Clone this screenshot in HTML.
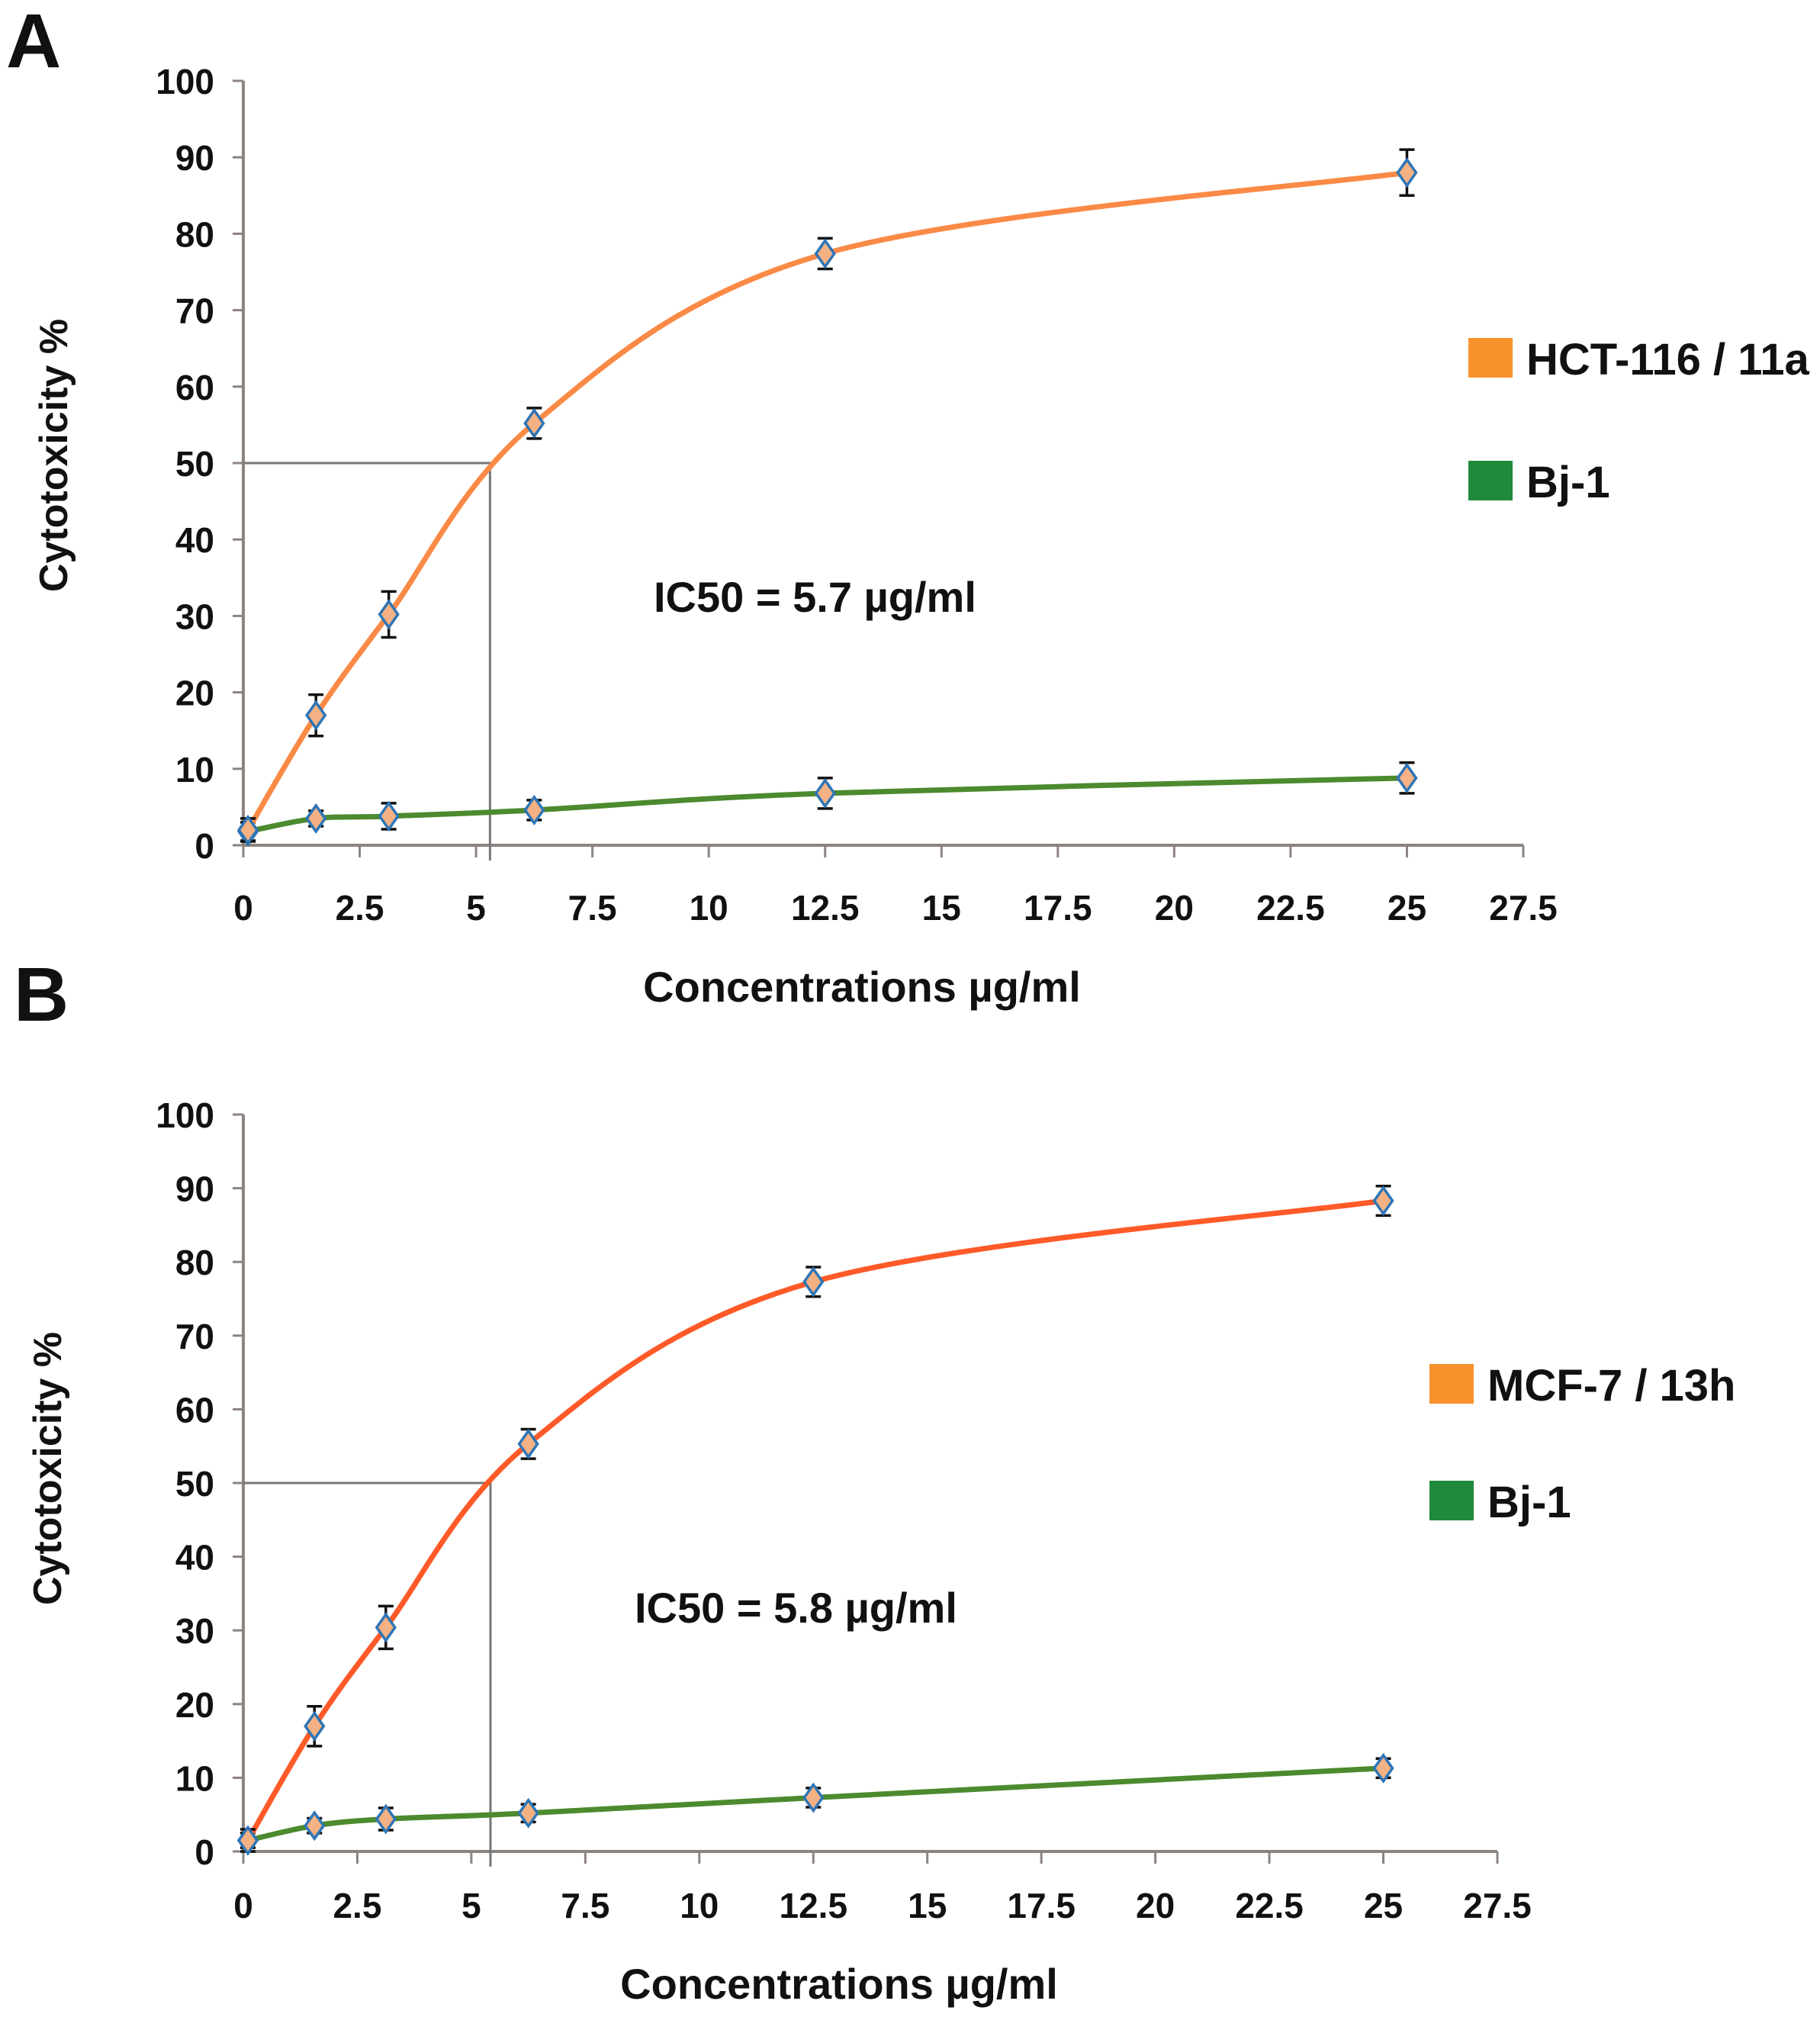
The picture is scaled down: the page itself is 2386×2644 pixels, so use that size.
<!DOCTYPE html>
<html><head><meta charset="utf-8"><style>
body{margin:0;background:#fff}
svg{display:block}
text{font-family:"Liberation Sans Narrow","Liberation Sans",sans-serif;font-weight:bold;fill:#111}
</style></head><body>
<svg id="fig" width="2386" height="2644" viewBox="0 0 2386 2644"></svg>
<script>
const xTicks=[0,2.5,5,7.5,10,12.5,15,17.5,20,22.5,25,27.5];
const xTickLabels=["0","2.5","5","7.5","10","12.5","15","17.5","20","22.5","25","27.5"];
const yTicks=[0,10,20,30,40,50,60,70,80,90,100];
const concA=[0.1,1.56,3.125,6.25,12.5,25];
const hctValues=[2,17,30.2,55.2,77.4,88];
const hctErrors=[1.5,2.7,3,2,2,3];
const bjValuesA=[1.8,3.5,3.8,4.6,6.8,8.8];
const bjErrorsA=[1.2,1,1.7,1.3,2,2];
const ic50A=5.3;
const concB=[0.1,1.56,3.125,6.25,12.5,25];
const mcfValues=[1.5,17,30.4,55.3,77.3,88.3];
const mcfErrors=[1.5,2.7,2.9,2,2,2];
const bjValuesB=[1.5,3.5,4.4,5.2,7.3,11.3];
const bjErrorsB=[1,1,1.5,1.2,1.3,1.3];
const ic50B=5.42;

const NS="http://www.w3.org/2000/svg";
const svg=document.getElementById('fig');
function mk(tag,attrs,parent,txt){const e=document.createElementNS(NS,tag);for(const k in attrs)e.setAttribute(k,attrs[k]);if(txt!==undefined)e.textContent=txt;(parent||svg).appendChild(e);return e;}
function spline(pts){let d=`M${pts[0][0]},${pts[0][1]}`;for(let i=0;i<pts.length-1;i++){const p0=pts[Math.max(0,i-1)],p1=pts[i],p2=pts[i+1],p3=pts[Math.min(pts.length-1,i+2)];const t=1/6;d+=` C${p1[0]+(p2[0]-p0[0])*t},${p1[1]+(p2[1]-p0[1])*t} ${p2[0]-(p3[0]-p1[0])*t},${p2[1]-(p3[1]-p1[1])*t} ${p2[0]},${p2[1]}`;}return d;}

function drawChart(c){
  const g=mk('g',{});
  
  
  const X=v=>c.x0+(v/27.5)*(c.x1-c.x0);
  const Y=v=>c.y0-(v/100)*(c.y0-c.y1);
  const ya=mk('line',{x1:c.x0,y1:c.y1,x2:c.x0,y2:c.y0,stroke:'#8c8480','stroke-width':4},g);
  
  const xa=mk('line',{x1:c.x0,y1:c.y0,x2:c.x1,y2:c.y0,stroke:'#8c8480','stroke-width':4},g);
  
  yTicks.forEach(v=>{mk('line',{x1:c.x0-14,y1:Y(v),x2:c.x0,y2:Y(v),stroke:'#8c8480','stroke-width':3},g);
    const t=mk('text',{x:c.x0-38,y:Y(v)+17,'text-anchor':'end','font-size':46},g,String(v));
    });
  xTicks.forEach((v,i)=>{mk('line',{x1:X(v),y1:c.y0,x2:X(v),y2:c.y0+16,stroke:'#8c8480','stroke-width':3},g);
    const t=mk('text',{x:X(v),y:c.xLabY+4,'text-anchor':'middle','font-size':46},g,xTickLabels[i]);
    });
  const gl=mk('path',{d:`M${c.x0},${Y(50)} H${X(c.ic50)} V${c.y0+20}`,fill:'none',stroke:'#777','stroke-width':3},g);
  
  [[c.bj,c.bjErr,'#4c8a2e','bj-1-series'],[c.main,c.mainErr,c.mainColor,'cancer-series']].forEach(([vals,errs,col,nm])=>{
    const pts=c.conc.map((x,i)=>[X(x),Y(vals[i])]);
    const p=mk('path',{d:spline(pts),fill:'none',stroke:col,'stroke-width':7},g);
    
    pts.forEach((pt,i)=>{
      const eb=mk('path',{d:`M${pt[0]-10},${Y(vals[i]+errs[i])} h20 M${pt[0]},${Y(vals[i]+errs[i])} V${Y(vals[i]-errs[i])} M${pt[0]-10},${Y(vals[i]-errs[i])} h20`,stroke:'#111','stroke-width':3.5,fill:'none'},g);
      
      const m=mk('path',{d:`M${pt[0]},${pt[1]-17} L${pt[0]+12},${pt[1]} L${pt[0]},${pt[1]+17} L${pt[0]-12},${pt[1]} Z`,fill:'#f4b183',stroke:'#2e75b6','stroke-width':3.5},g);
      
    });
  });
  const ic=mk('text',{x:c.icX,y:c.icY,'font-size':56},g,c.icText);
  const xt=mk('text',{x:c.xtX,y:c.xtY,'text-anchor':'middle','font-size':56},g,'Concentrations  µg/ml');
  const yt=mk('text',{x:0,y:0,'text-anchor':'middle','font-size':52,transform:`translate(${c.ytX},${c.ytY}) rotate(-90)`,style:'font-family:"Liberation Sans",sans-serif'},g,'Cytotoxicity %');
  const l1=mk('rect',{x:c.lgX,y:c.lgY1,width:58,height:52,fill:'#f7922d'},g);
  const t1=mk('text',{x:c.lgX+76,y:c.lgY1+48,'font-size':58},g,c.legendText);
  const l2=mk('rect',{x:c.lgX,y:c.lgY2,width:58,height:52,fill:'#1e8a3a'},g);
  const t2=mk('text',{x:c.lgX+76,y:c.lgY2+48,'font-size':58},g,'Bj-1');
  const pl=mk('text',{x:c.pX,y:c.pY,'font-size':100,style:'font-family:"Liberation Sans",sans-serif'},g,c.panel);
}
drawChart({name:'chart-a',x0:319,x1:1997,y0:1108,y1:106,conc:concA,main:hctValues,mainErr:hctErrors,bj:bjValuesA,bjErr:bjErrorsA,ic50:ic50A,mainColor:'#fa8a45',
  xLabY:1202,icX:857,icY:802,icText:'IC50 = 5.7 µg/ml',xtX:1130,xtY:1313,ytX:88,ytY:597,lgX:1925,lgY1:443,lgY2:604,legendText:'HCT-116 / 11a',panel:'A',pX:8,pY:88});
drawChart({name:'chart-b',x0:319,x1:1963,y0:2427,y1:1461,conc:concB,main:mcfValues,mainErr:mcfErrors,bj:bjValuesB,bjErr:bjErrorsB,ic50:ic50B,mainColor:'#ff5a28',
  xLabY:2510,icX:832,icY:2127,icText:'IC50 = 5.8 µg/ml',xtX:1100,xtY:2620,ytX:80,ytY:1925,lgX:1874,lgY1:1788,lgY2:1941,legendText:'MCF-7 / 13h',panel:'B',pX:18,pY:1338});
</script>
</body></html>
